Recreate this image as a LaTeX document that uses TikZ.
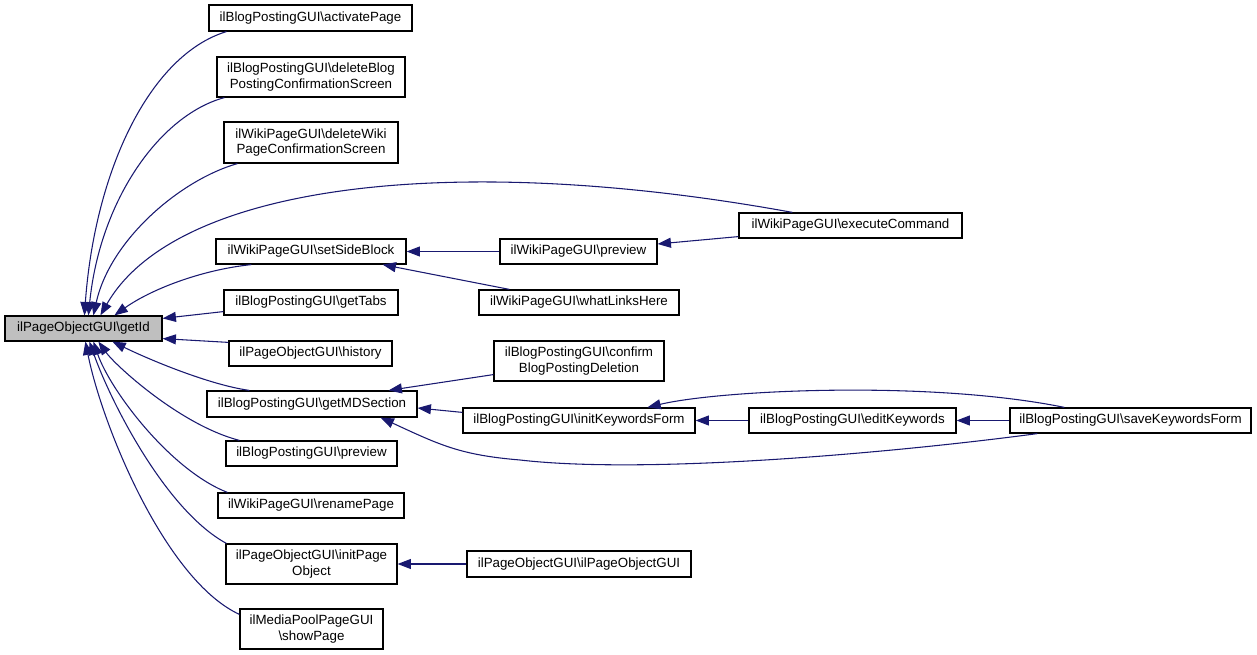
\documentclass[tikz,border=0pt]{standalone}
\usepackage{fontspec}
\setmainfont{Liberation Sans}
\usetikzlibrary{arrows.meta,calc}
\definecolor{edgeblue}{RGB}{25,25,112}
\definecolor{hlgray}{RGB}{191,191,191}
\newcommand{\bs}{\textbackslash{}}
\begin{document}
\begin{tikzpicture}[x=0.75pt,y=-0.75pt,
  fn/.style={draw=black, line width=0.9pt, fill=white, inner sep=0pt, align=center,
    font=\fontsize{10}{11.5}\selectfont},
  wh/.style 2 args={minimum width=#1*0.75pt, minimum height=#2*0.75pt},
  edge/.style={draw=edgeblue, line width=0.8pt, {Triangle[length=10pt,width=7.5pt]}-}]
\useasboundingbox (0,0) rectangle (1257,655);

% nodes
\node[fn, wh={157}{25}, fill=hlgray] (getId) at (83.5,328.5) {ilPageObjectGUI\bs getId};
\node[fn, wh={203}{26}] (act) at (310.5,18) {ilBlogPostingGUI\bs activatePage};
\node[fn, wh={188}{40}] (delBlog) at (311,77) {ilBlogPostingGUI\bs deleteBlog\\PostingConfirmationScreen};
\node[fn, wh={174}{41}] (delWiki) at (311,142.5) {ilWikiPageGUI\bs deleteWiki\\PageConfirmationScreen};
\node[fn, wh={190}{25}] (setSide) at (311,251.5) {ilWikiPageGUI\bs setSideBlock};
\node[fn, wh={174}{25}] (getTabs) at (311,302.5) {ilBlogPostingGUI\bs getTabs};
\node[fn, wh={163}{25}] (history) at (310.5,353.5) {ilPageObjectGUI\bs history};
\node[fn, wh={210}{26}] (getMD) at (312,404) {ilBlogPostingGUI\bs getMDSection};
\node[fn, wh={171}{25}] (bprev) at (311.5,453.5) {ilBlogPostingGUI\bs preview};
\node[fn, wh={186}{25}] (rename) at (311,505.5) {ilWikiPageGUI\bs renamePage};
\node[fn, wh={171}{40}] (initPO) at (311.5,564) {ilPageObjectGUI\bs initPage\\Object};
\node[fn, wh={143}{40}] (showPage) at (311.5,629) {ilMediaPoolPageGUI\\\bs showPage};
\node[fn, wh={157}{25}] (wprev) at (578.5,251.5) {ilWikiPageGUI\bs preview};
\node[fn, wh={200}{25}] (what) at (579,302.5) {ilWikiPageGUI\bs whatLinksHere};
\node[fn, wh={223}{25}] (exec) at (850.5,225.5) {ilWikiPageGUI\bs executeCommand};
\node[fn, wh={170}{40}] (confirm) at (579,361) {ilBlogPostingGUI\bs confirm\\BlogPostingDeletion};
\node[fn, wh={232}{25}] (initKW) at (579,420.5) {ilBlogPostingGUI\bs initKeywordsForm};
\node[fn, wh={207}{25}] (editKW) at (852.5,420.5) {ilBlogPostingGUI\bs editKeywords};
\node[fn, wh={241}{25}] (saveKW) at (1130.5,420.5) {ilBlogPostingGUI\bs saveKeywordsForm};
\node[fn, wh={224}{26}] (iPOG) at (579,564) {ilPageObjectGUI\bs ilPageObjectGUI};

% edges into getId (top side)
\draw[edge] ($(getId.north west)+(80,0)$) .. controls (95,170) and (150,55) .. ($(act.south west)+(18,0)$);
\draw[edge] ($(getId.north west)+(84,0)$) .. controls (100,200) and (160,115) .. ($(delBlog.south west)+(8,0)$);
\draw[edge] ($(getId.north west)+(89,0)$) .. controls (110,240) and (180,180) .. ($(delWiki.south west)+(14,0)$);
\draw[edge] ($(getId.north west)+(96,0)$) .. controls (175,185) and (450,150) .. ($(exec.north west)+(54,0)$);
\draw[edge] ($(getId.north west)+(110,0)$) .. controls (150,290) and (200,270) .. ($(setSide.south west)+(36,0)$);
\draw[edge] ($(getId.north east)+(0,3)$) -- ($(getTabs.south west)+(0,-4)$);
% edges into getId (bottom side)
\draw[edge] ($(getId.south east)+(0,-3)$) -- ($(history.north west)+(0,2)$);
\draw[edge] ($(getId.south west)+(108,0)$) .. controls (150,360) and (210,385) .. ($(getMD.north west)+(43,0)$);
\draw[edge] ($(getId.south west)+(94,0)$) .. controls (115,365) and (180,425) .. ($(bprev.north west)+(14,0)$);
\draw[edge] ($(getId.south west)+(89,0)$) .. controls (110,390) and (170,470) .. ($(rename.north west)+(10,0)$);
\draw[edge] ($(getId.south west)+(85,0)$) .. controls (110,400) and (165,510) .. ($(initPO.north west)+(1,0)$);
\draw[edge] ($(getId.south west)+(81,0)$) .. controls (102,425) and (165,580) .. ($(showPage.north west)+(0,6)$);

% other edges
\draw[edge] (setSide.east) -- (wprev.west);
\draw[edge] ($(setSide.south east)+(-24,0)$) -- ($(what.north west)+(31,0)$);
\draw[edge] ($(wprev.east)+(0,-7.5)$) -- ($(exec.south west)+(0,-2)$);
\draw[edge] ($(getMD.north east)+(-29,0)$) -- ($(confirm.south west)+(0,-7)$);
\draw[edge] ($(getMD.east)+(0,4)$) -- ($(initKW.north west)+(0,5)$);
\draw[edge] (initKW.east) -- (editKW.west);
\draw[edge] (editKW.east) -- (saveKW.west);
\draw[edge] ($(initKW.north west)+(185,0)$) .. controls (720,390) and (930,380) .. ($(saveKW.north west)+(55,0)$);
\draw[edge] ($(getMD.south east)+(-37,0)$) .. controls (440,445) and (460,455) .. (520,460)
   .. controls (650,475) and (900,452) .. ($(saveKW.south west)+(28,0)$);
\draw[edge] (initPO.east) -- (iPOG.west);
\end{tikzpicture}
\end{document}
